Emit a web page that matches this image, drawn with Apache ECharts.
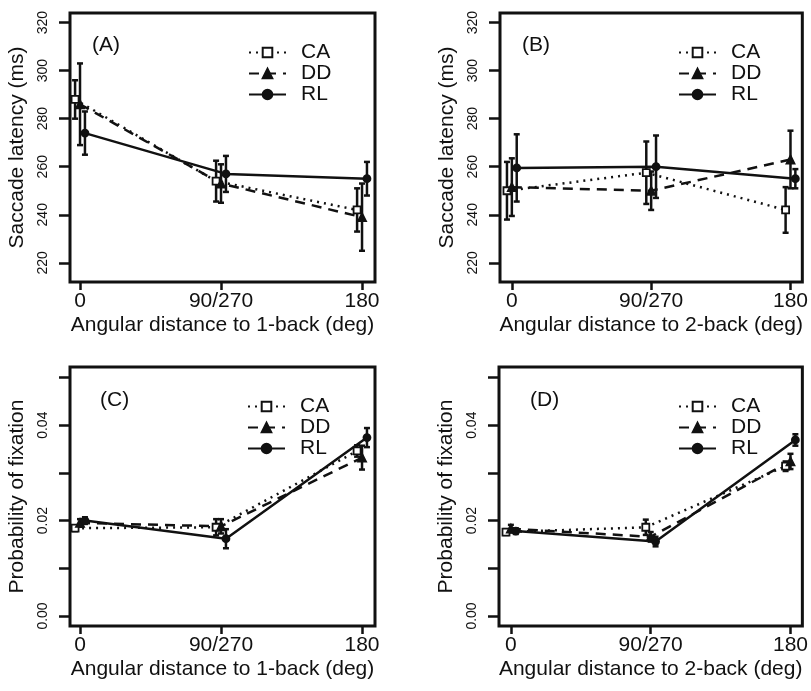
<!DOCTYPE html>
<html>
<head>
<meta charset="utf-8">
<script src="https://cdn.jsdelivr.net/npm/echarts@6/dist/echarts.min.js"></script>
<style>
  html, body { margin: 0; padding: 0; background: #fff; }
  #main { width: 811px; height: 691px; }
</style>
</head>
<body>
<div id="main"></div>
<script>
// x categories (drawn on a value axis so groups can be jittered)
var xLabels = ['0', '90/270', '180'];
var xTicks = [0, 1, 2];
var groups = ['CA', 'DD', 'RL'];
var jitter = [-0.035, 0, 0.035];

var latencyTicks = [220, 240, 260, 280, 300, 320];
var probTicks = [0, 0.01, 0.02, 0.03, 0.04, 0.05];
var probLabels = [0, 0.02, 0.04];

// (A) saccade latency vs 1-back
var latency1CA = [288, 254, 242];
var latency1DD = [286, 253, 239];
var latency1RL = [274, 257, 255];
var latency1CAerr = [8, 8.5, 9];
var latency1DDerr = [17, 8, 14];
var latency1RLerr = [9, 7.5, 7];

// (B) saccade latency vs 2-back
var latency2CA = [250, 257.5, 242];
var latency2DD = [251.5, 250, 263];
var latency2RL = [259.5, 260, 255];
var latency2CAerr = [12, 13, 9.5];
var latency2DDerr = [12, 8, 12];
var latency2RLerr = [14, 13, 4];

// (C) probability of fixation vs 1-back
var prob1CA = [0.0184, 0.0186, 0.0346];
var prob1DD = [0.0195, 0.0188, 0.0332];
var prob1RL = [0.0200, 0.0162, 0.0374];
var prob1CAerr = [0.0006, 0.0017, 0.0012];
var prob1DDerr = [0.0008, 0.0015, 0.0025];
var prob1RLerr = [0.0007, 0.0020, 0.0020];

// (D) probability of fixation vs 2-back
var prob2CA = [0.0176, 0.0186, 0.0314];
var prob2DD = [0.0183, 0.0166, 0.0324];
var prob2RL = [0.0178, 0.0156, 0.0369];
var prob2CAerr = [0.0006, 0.0016, 0.0010];
var prob2DDerr = [0.0008, 0.0010, 0.0016];
var prob2RLerr = [0.0006, 0.0010, 0.0012];

var panels = [
  { tag: '(A)', series: [latency1CA, latency1DD, latency1RL], err: [latency1CAerr, latency1DDerr, latency1RLerr] },
  { tag: '(B)', series: [latency2CA, latency2DD, latency2RL], err: [latency2CAerr, latency2DDerr, latency2RLerr] },
  { tag: '(C)', series: [prob1CA, prob1DD, prob1RL], err: [prob1CAerr, prob1DDerr, prob1RLerr] },
  { tag: '(D)', series: [prob2CA, prob2DD, prob2RL], err: [prob2CAerr, prob2DDerr, prob2RLerr] }
];

var FONT = 'Liberation Sans, Arial, Helvetica, sans-serif';
var INK = '#111';

var grids = [
  { left: 70, top: 13, width: 305, height: 269 },
  { left: 500, top: 13, width: 305, height: 269 },
  { left: 70, top: 367, width: 305, height: 259 },
  { left: 499, top: 367, width: 306, height: 259 }
];
var xRange = [[-0.071, 2.092], [-0.085, 2.085], [-0.071, 2.092], [-0.085, 2.085]];
var xNames = ['Angular distance to 1-back (deg)', 'Angular distance to 2-back (deg)',
  'Angular distance to 1-back (deg)', 'Angular distance to 2-back (deg)'];

var lineTypes = [[2, 5], [10, 7], 'solid'];
var symbols = ['rect', 'triangle', 'circle'];
var symbolSizes = [7, 8, 7];
var symbolFills = ['#fff', INK, INK];

function renderErr(params, api) {
  var x = api.value(0);
  var lo = api.coord([x, api.value(1)]);
  var hi = api.coord([x, api.value(2)]);
  var cap = 3;
  var st = { stroke: INK, lineWidth: 2.5 };
  return {
    type: 'group',
    children: [
      { type: 'line', shape: { x1: lo[0], y1: lo[1], x2: hi[0], y2: hi[1] }, style: st },
      { type: 'line', shape: { x1: lo[0] - cap, y1: lo[1], x2: lo[0] + cap, y2: lo[1] }, style: st },
      { type: 'line', shape: { x1: hi[0] - cap, y1: hi[1], x2: hi[0] + cap, y2: hi[1] }, style: st }
    ]
  };
}

var xAxes = [];
var yAxes = [];
var series = [];
var legends = [];
var graphics = [];
var legendPos = [[243, 37], [673, 37], [242, 391], [673, 391]];
var tagPos = [[92, 47], [522, 47], [100, 402], [530, 402]];

for (var p = 0; p < 4; p++) {
  var isLatency = p < 2;
  xAxes.push({
    gridIndex: p,
    type: 'value',
    min: xRange[p][0],
    max: xRange[p][1],
    splitLine: { show: false },
    axisLine: { show: false, onZero: false },
    axisTick: { show: true, length: 8, customValues: xTicks, lineStyle: { color: INK, width: 2.5 } },
    axisLabel: {
      customValues: xTicks,
      formatter: function (v) { return xLabels[Math.round(v)]; },
      fontSize: 21, fontFamily: FONT, color: INK, margin: 9
    },
    name: xNames[p],
    nameLocation: 'middle',
    nameGap: 33,
    nameTextStyle: { fontSize: 21, fontFamily: FONT, color: INK }
  });
  yAxes.push({
    gridIndex: p,
    type: 'value',
    min: isLatency ? 212 : -0.0021,
    max: isLatency ? 324 : 0.0522,
    splitLine: { show: false },
    axisLine: { show: false, onZero: false },
    axisTick: { show: true, length: 11, customValues: isLatency ? latencyTicks : probTicks, lineStyle: { color: INK, width: 2.5 } },
    axisLabel: {
      customValues: isLatency ? latencyTicks : probLabels,
      formatter: isLatency ? '{value}' : function (v) { return v.toFixed(2); },
      rotate: 90, fontSize: 14, fontFamily: FONT, color: INK, margin: 20
    },
    name: isLatency ? 'Saccade latency (ms)' : 'Probability of fixation',
    nameLocation: 'middle',
    nameRotate: 90,
    nameGap: 42,
    nameTextStyle: { fontSize: 21, fontFamily: FONT, color: INK }
  });

  for (var g = 0; g < 3; g++) {
    var vals = panels[p].series[g];
    var errs = panels[p].err[g];
    var pts = [];
    var bars = [];
    for (var i = 0; i < vals.length; i++) {
      pts.push([xTicks[i] + jitter[g], vals[i]]);
      bars.push([xTicks[i] + jitter[g], vals[i] - errs[i], vals[i] + errs[i]]);
    }
    series.push({
      type: 'custom',
      name: groups[g] + ' err',
      xAxisIndex: p,
      yAxisIndex: p,
      renderItem: renderErr,
      encode: { x: 0, y: [1, 2] },
      data: bars,
      clip: false,
      z: 2,
      silent: true
    });
    series.push({
      type: 'line',
      name: groups[g],
      xAxisIndex: p,
      yAxisIndex: p,
      data: pts,
      symbol: symbols[g],
      symbolSize: symbolSizes[g],
      showAllSymbol: true,
      animation: false,
      color: INK,
      lineStyle: { color: INK, width: 2.5, type: lineTypes[g] },
      itemStyle: { color: symbolFills[g], borderColor: INK, borderWidth: 1.8, opacity: 1 },
      z: 3
    });
  }

  legends.push({
    data: groups,
    orient: 'vertical',
    left: legendPos[p][0],
    top: legendPos[p][1],
    itemWidth: 37,
    itemHeight: 12,
    itemGap: 0,
    selectedMode: false,
    textStyle: { fontSize: 21, fontFamily: FONT, color: INK, lineHeight: 20, padding: [0, 0, 0, 10] }
  });

  graphics.push({
    type: 'text',
    left: tagPos[p][0],
    top: tagPos[p][1] - 12,
    style: { text: panels[p].tag, fontSize: 21, fontFamily: FONT, fill: INK }
  });
}

var chart = echarts.init(document.getElementById('main'), null, { renderer: 'canvas' });

var option = {
  animation: false,
  backgroundColor: '#fff',
  grid: grids.map(function (r) {
    return { left: r.left, top: r.top, width: r.width, height: r.height, show: true, borderColor: INK, borderWidth: 3, backgroundColor: 'transparent' };
  }),
  xAxis: xAxes,
  yAxis: yAxes,
  legend: legends,
  graphic: graphics,
  series: series
};

chart.setOption(option);
</script>
</body>
</html>
